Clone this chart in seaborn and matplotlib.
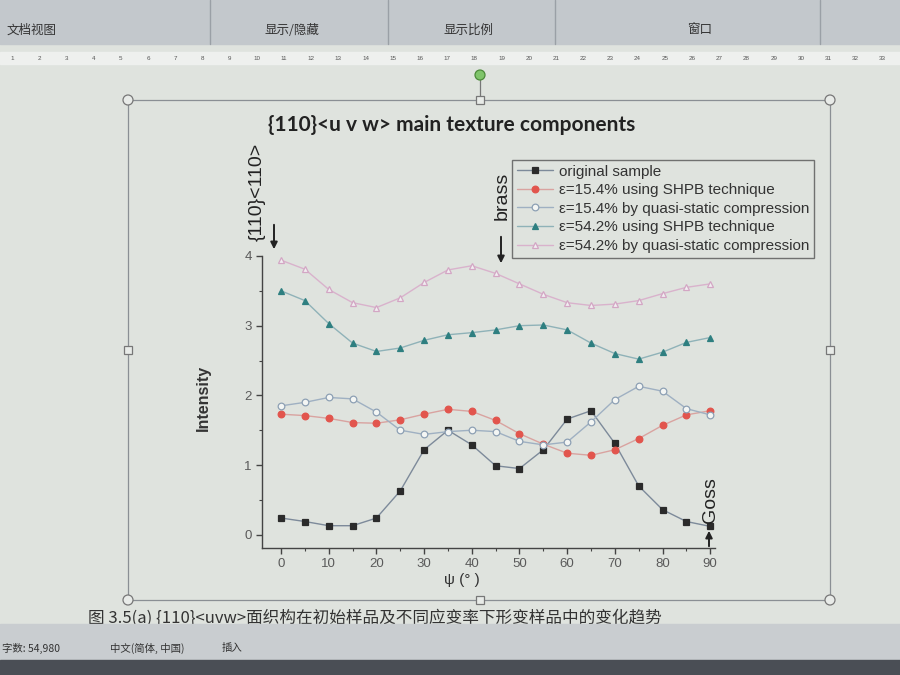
import matplotlib
matplotlib.use("Agg")
import matplotlib.pyplot as plt
import seaborn as sns
from matplotlib.patches import Rectangle, Circle

# ---------------- data ----------------
psi = [0, 5, 10, 15, 20, 25, 30, 35, 40, 45, 50, 55, 60, 65, 70, 75, 80, 85, 90]
original = [0.24, 0.19, 0.13, 0.13, 0.24, 0.63, 1.22, 1.50, 1.29, 0.99, 0.95, 1.22, 1.66, 1.78, 1.31, 0.70, 0.36, 0.19, 0.12]
shpb_154 = [1.73, 1.71, 1.67, 1.61, 1.60, 1.65, 1.73, 1.80, 1.77, 1.64, 1.45, 1.30, 1.17, 1.14, 1.22, 1.38, 1.57, 1.72, 1.78]
quasi_154 = [1.85, 1.90, 1.97, 1.95, 1.76, 1.50, 1.44, 1.48, 1.50, 1.48, 1.34, 1.29, 1.33, 1.62, 1.94, 2.13, 2.06, 1.81, 1.72]
shpb_542 = [3.50, 3.36, 3.03, 2.75, 2.63, 2.68, 2.79, 2.87, 2.90, 2.94, 3.00, 3.01, 2.94, 2.75, 2.60, 2.52, 2.62, 2.76, 2.83]
quasi_542 = [3.94, 3.81, 3.52, 3.33, 3.26, 3.40, 3.62, 3.80, 3.86, 3.75, 3.60, 3.45, 3.33, 3.29, 3.31, 3.36, 3.46, 3.55, 3.60]
series_labels = ["original sample",
                 "ε=15.4% using SHPB technique",
                 "ε=15.4% by quasi-static compression",
                 "ε=54.2% using SHPB technique",
                 "ε=54.2% by quasi-static compression"]
x_ticks = [0, 10, 20, 30, 40, 50, 60, 70, 80, 90]
y_ticks = [0, 1, 2, 3, 4]

sns.set_style("ticks")
plt.rcParams['font.family'] = ['Liberation Sans', 'Noto Sans CJK SC', 'DejaVu Sans']

W, H = 900, 675
fig = plt.figure(figsize=(9, 6.75), dpi=100)
fig.patch.set_facecolor('#dfe3de')

# background / decoration axes in pixel coords
bg = fig.add_axes([0, 0, 1, 1])
bg.set_xlim(0, W)
bg.set_ylim(H, 0)
bg.axis('off')
bg.set_zorder(0)

# top toolbar band
bg.add_patch(Rectangle((0, 0), W, 44, color='#c3c8cc', zorder=1))
for xd in [210, 388, 555, 820]:
    bg.plot([xd, xd], [0, 44], color='#9aa0a6', lw=1, zorder=2)
for txt, xx in [("文档视图", 32), ("显示/隐藏", 292), ("显示比例", 468), ("窗口", 700)]:
    bg.text(xx, 30, txt, fontsize=9, color='#333', ha='center', va='center',
            family=['Noto Sans CJK SC', 'DejaVu Sans'], zorder=3)
# ruler
bg.add_patch(Rectangle((0, 52), W, 12, color='#eef0ee', zorder=1))
for i in range(1, 34):
    bg.text(12 + (i - 1) * 27.2, 58, str(i), fontsize=4.5, color='#555', ha='center', va='center', zorder=3)
# status bar
bg.add_patch(Rectangle((0, 624), W, 36, color='#c9cdd0', zorder=4))
bg.add_patch(Rectangle((0, 660), W, 15, color='#4a4e55', zorder=4))
for txt, xx in [("字数: 54,980", 2), ("中文(简体, 中国)", 110), ("插入", 222)]:
    bg.text(xx, 648, txt, fontsize=7.5, color='#333', ha='left', va='center',
            family=['Noto Sans CJK SC', 'DejaVu Sans'], zorder=5)
# caption partly hidden
bg.text(88, 618, "图 3.5(a) {110}<uvw>面织构在初始样品及不同应变率下形变样品中的变化趋势",
        fontsize=12, color='#333', ha='left', va='center',
        family=['Noto Sans CJK SC', 'DejaVu Sans'], zorder=3)

# chart frame with selection handles
bg.add_patch(Rectangle((128, 100), 702, 500, fill=False, ec='#8a8f94', lw=0.9, zorder=2))
for (cx, cy) in [(128, 100), (830, 100), (128, 600), (830, 600)]:
    bg.add_patch(Circle((cx, cy), 5, fc='#e8ebe8', ec='#777', lw=0.9, zorder=3))
for (cx, cy) in [(480, 100), (128, 350), (830, 350), (480, 600)]:
    bg.add_patch(Rectangle((cx - 4, cy - 4), 8, 8, fc='#e8ebe8', ec='#777', lw=0.9, zorder=3))
bg.plot([480, 480], [80, 96], color='#777', lw=0.9, zorder=2)
bg.add_patch(Circle((480, 75), 5, fc='#7fc46a', ec='#4c8a3a', lw=0.9, zorder=3))

# ---------------- main plot ----------------
ax = fig.add_axes([262 / W, 1 - 548 / H, (715 - 262) / W, (548 - 256) / H])
ax.set_zorder(2)
ax.patch.set_alpha(0)

styles = [
    dict(values=original, marker='s', line='#7d8a9a', mfc='#2b2b2b', mec='#2b2b2b'),
    dict(values=shpb_154, marker='o', line='#d9a3a0', mfc='#e2554d', mec='#e2554d'),
    dict(values=quasi_154, marker='o', line='#9fb0c2', mfc='#f4f6f4', mec='#8da0b4'),
    dict(values=shpb_542, marker='^', line='#8fb2b8', mfc='#2e7f80', mec='#2e7f80'),
    dict(values=quasi_542, marker='^', line='#d9b2cc', mfc='#f1eef1', mec='#d3a6c4'),
]
for st, lab in zip(styles, series_labels):
    sns.lineplot(x=psi, y=st['values'], ax=ax, color=st['line'], lw=1.0,
                 marker=st['marker'], markersize=4.8, markerfacecolor=st['mfc'],
                 markeredgecolor=st['mec'], markeredgewidth=0.9, label=lab, clip_on=False)

ax.set_xlim(-4, 91)
ax.set_ylim(-0.19, 4.0)
ax.set_xticks(x_ticks)
ax.set_yticks(y_ticks)
ax.set_xticks([5, 15, 25, 35, 45, 55, 65, 75, 85], minor=True)
ax.set_yticks([0.5, 1.5, 2.5, 3.5], minor=True)
ax.tick_params(axis='both', which='major', length=4, width=1, color='#444', labelsize=9.5, labelcolor='#5a5a5a')
ax.tick_params(axis='both', which='minor', length=2.5, width=0.8, color='#444')
sns.despine(ax=ax)
for s in ['left', 'bottom']:
    ax.spines[s].set_color('#444')
    ax.spines[s].set_linewidth(1.0)
ax.set_xlabel("")
ax.set_ylabel("")

handles, labels = ax.get_legend_handles_labels()
ax.get_legend().remove()
leg = fig.legend(handles, labels, loc='upper left', bbox_to_anchor=(512 / W, 1 - 160 / H),
                 fontsize=11, frameon=True, fancybox=False, edgecolor='#555',
                 labelspacing=0.3, handlelength=2.4, handletextpad=0.35, borderpad=0.3,
                 borderaxespad=0)
leg.get_frame().set_facecolor('none')
leg.get_frame().set_linewidth(1.0)
for t in leg.get_texts():
    t.set_color('#333')

# ---------------- texts & arrows (pixel coords) ----------------
top = fig.add_axes([0, 0, 1, 1])
top.set_xlim(0, W)
top.set_ylim(H, 0)
top.axis('off')
top.set_zorder(3)
top.patch.set_alpha(0)

top.text(268, 125, "{110}<u v w> main texture components", fontsize=15, fontweight='bold',
         family=['Lato', 'DejaVu Sans'], color='#222', ha='left', va='center')
top.text(257, 192, "{110}<110>", fontsize=14, rotation=90, ha='center', va='center', color='#222')
top.annotate("", xy=(274, 252), xytext=(274, 222),
             arrowprops=dict(arrowstyle='-|>', color='#222', lw=1.4, mutation_scale=10))
top.text(502, 196, "brass", fontsize=14, rotation=90, ha='center', va='center', color='#222')
top.annotate("", xy=(501, 266), xytext=(501, 234),
             arrowprops=dict(arrowstyle='-|>', color='#222', lw=1.4, mutation_scale=10))
top.text(711, 500, "Goss", fontsize=14, rotation=90, ha='center', va='center', color='#222')
top.annotate("", xy=(709, 528), xytext=(709, 549),
             arrowprops=dict(arrowstyle='-|>', color='#222', lw=1.4, mutation_scale=10))
top.text(203, 398, "Intensity", fontsize=11.5, fontweight='bold', rotation=90,
         ha='center', va='center', color='#333')
top.text(462, 580, "ψ (° )", fontsize=11, ha='center', va='center', color='#333')

fig.savefig("out.png", dpi=100, facecolor=fig.get_facecolor())
